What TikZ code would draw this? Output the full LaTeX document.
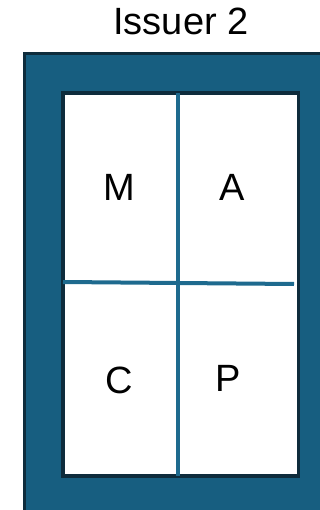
\documentclass[tikz,border=0pt]{standalone}
\usepackage{fontspec}
\setmainfont{Liberation Sans}
\usepackage{tikz}
\usetikzlibrary{positioning}
\usepackage{xcolor}
\definecolor{frameblue}{HTML}{175E80}
\definecolor{framedark}{HTML}{0E2C3C}
\definecolor{divblue}{HTML}{1E6A8E}

\begin{document}
\begin{tikzpicture}[x=1pt, y=-1pt,
      outer/.style={fill=frameblue, draw=framedark, line width=3pt},
      inner/.style={fill=white, draw=framedark, line width=3.5pt},
      cell/.style={font=\fontsize{38}{40}\selectfont, inner sep=0pt},
      divider/.style={draw=divblue, line width=3.5pt}]
    \useasboundingbox (0,0) rectangle (320,510);
    \clip (0,0) rectangle (320,510);
    \node[font=\fontsize{38}{42}\selectfont, anchor=base] (title) at (181,35) {Issuer 2};
    \draw[outer] (24.5,53.5) rectangle (335,525);
    \draw[inner] (63,93) rectangle (298.5,476);
    \coordinate (topmid) at (178,93);
    \coordinate (botmid) at (178,476);
    \coordinate (leftmid) at (63,282);
    \coordinate (rightmid) at (294,284);
    \node[cell] (m) at (119,187) {M};
    \node[cell] (a) at (232,187) {A};
    \node[cell] (c) at (119,380) {C};
    \node[cell] (p) at (228,378) {P};
    \draw[divider] (topmid) -- (botmid);
    \draw[divider, line width=4pt] (leftmid) -- (rightmid);
  \end{tikzpicture}
\end{document}
